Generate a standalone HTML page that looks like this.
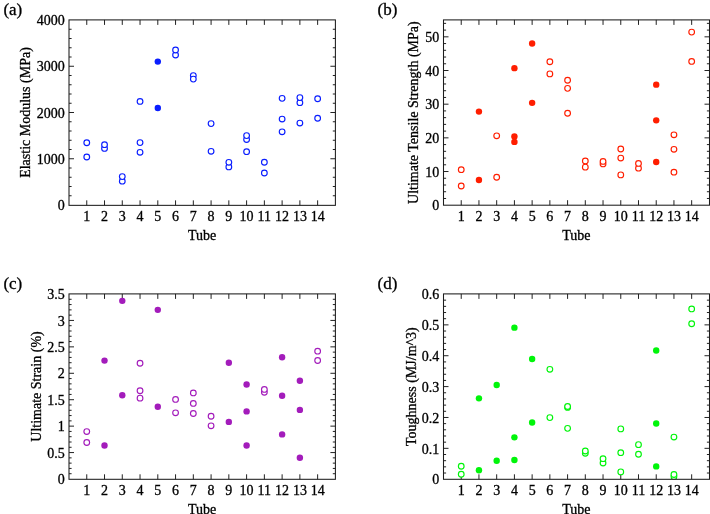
<!DOCTYPE html>
<html><head><meta charset="utf-8"><title>Tube mechanical properties</title>
<style>
html,body{margin:0;padding:0;background:#fff;}
body{width:710px;height:514px;overflow:hidden;}
svg{display:block;}
text{font-family:"Liberation Serif", serif;font-size:14px;fill:#000;stroke:#000;stroke-width:0.3px;}
svg{will-change:transform;}
</style></head><body>
<svg width="710" height="514" viewBox="0 0 710 514">
<rect width="710" height="514" fill="#fff"/>
<g>
<path d="M86.76 205.35V200.35M86.76 19.9V24.9M104.52 205.35V200.35M104.52 19.9V24.9M122.28 205.35V200.35M122.28 19.9V24.9M140.04 205.35V200.35M140.04 19.9V24.9M157.8 205.35V200.35M157.8 19.9V24.9M175.56 205.35V200.35M175.56 19.9V24.9M193.32 205.35V200.35M193.32 19.9V24.9M211.08 205.35V200.35M211.08 19.9V24.9M228.84 205.35V200.35M228.84 19.9V24.9M246.6 205.35V200.35M246.6 19.9V24.9M264.36 205.35V200.35M264.36 19.9V24.9M282.12 205.35V200.35M282.12 19.9V24.9M299.88 205.35V200.35M299.88 19.9V24.9M317.64 205.35V200.35M317.64 19.9V24.9M69 195.75H71.6M335.4 195.75H332.8M69 186.5H71.6M335.4 186.5H332.8M69 177.25H71.6M335.4 177.25H332.8M69 168H71.6M335.4 168H332.8M69 158.75H74M335.4 158.75H330.4M69 149.5H71.6M335.4 149.5H332.8M69 140.25H71.6M335.4 140.25H332.8M69 131H71.6M335.4 131H332.8M69 121.75H71.6M335.4 121.75H332.8M69 112.5H74M335.4 112.5H330.4M69 103.25H71.6M335.4 103.25H332.8M69 94H71.6M335.4 94H332.8M69 84.75H71.6M335.4 84.75H332.8M69 75.5H71.6M335.4 75.5H332.8M69 66.25H74M335.4 66.25H330.4M69 57H71.6M335.4 57H332.8M69 47.75H71.6M335.4 47.75H332.8M69 38.5H71.6M335.4 38.5H332.8M69 29.25H71.6M335.4 29.25H332.8" stroke="#222" stroke-width="1.0" fill="none"/>
<text x="64.7" y="210.2" text-anchor="end">0</text>
<text x="64.7" y="163.95" text-anchor="end">1000</text>
<text x="64.7" y="117.7" text-anchor="end">2000</text>
<text x="64.7" y="71.45" text-anchor="end">3000</text>
<text x="64.7" y="25.2" text-anchor="end">4000</text>
<text x="86.76" y="221" text-anchor="middle">1</text>
<text x="104.52" y="221" text-anchor="middle">2</text>
<text x="122.28" y="221" text-anchor="middle">3</text>
<text x="140.04" y="221" text-anchor="middle">4</text>
<text x="157.8" y="221" text-anchor="middle">5</text>
<text x="175.56" y="221" text-anchor="middle">6</text>
<text x="193.32" y="221" text-anchor="middle">7</text>
<text x="211.08" y="221" text-anchor="middle">8</text>
<text x="228.84" y="221" text-anchor="middle">9</text>
<text x="246.6" y="221" text-anchor="middle">10</text>
<text x="264.36" y="221" text-anchor="middle">11</text>
<text x="282.12" y="221" text-anchor="middle">12</text>
<text x="299.88" y="221" text-anchor="middle">13</text>
<text x="317.64" y="221" text-anchor="middle">14</text>
<text x="202.2" y="239.7" text-anchor="middle">Tube</text>
<text transform="translate(30 112.5) rotate(-90)" x="0" y="0" text-anchor="middle">Elastic Modulus (MPa)</text>
<text x="3.4" y="15" style="font-size:17px">(a)</text>
<clipPath id="ca"><rect x="69" y="19.9" width="266.4" height="185.45"/></clipPath>
<g clip-path="url(#ca)"><circle cx="86.76" cy="156.99" r="2.85" fill="#fff" stroke="#0a1eff" stroke-width="1.15"/><circle cx="86.76" cy="142.79" r="2.85" fill="#fff" stroke="#0a1eff" stroke-width="1.15"/><circle cx="104.52" cy="148.39" r="2.85" fill="#fff" stroke="#0a1eff" stroke-width="1.15"/><circle cx="104.52" cy="144.69" r="2.85" fill="#fff" stroke="#0a1eff" stroke-width="1.15"/><circle cx="122.28" cy="181.18" r="2.85" fill="#fff" stroke="#0a1eff" stroke-width="1.15"/><circle cx="122.28" cy="176.6" r="2.85" fill="#fff" stroke="#0a1eff" stroke-width="1.15"/><circle cx="140.04" cy="152.32" r="2.85" fill="#fff" stroke="#0a1eff" stroke-width="1.15"/><circle cx="140.04" cy="142.61" r="2.85" fill="#fff" stroke="#0a1eff" stroke-width="1.15"/><circle cx="140.04" cy="101.4" r="2.85" fill="#fff" stroke="#0a1eff" stroke-width="1.15"/><circle cx="157.8" cy="108.01" r="3.2" fill="#0a1eff"/><circle cx="157.8" cy="61.62" r="3.2" fill="#0a1eff"/><circle cx="175.56" cy="55.01" r="2.85" fill="#fff" stroke="#0a1eff" stroke-width="1.15"/><circle cx="175.56" cy="50.02" r="2.85" fill="#fff" stroke="#0a1eff" stroke-width="1.15"/><circle cx="193.32" cy="75.59" r="2.85" fill="#fff" stroke="#0a1eff" stroke-width="1.15"/><circle cx="193.32" cy="79.11" r="2.85" fill="#fff" stroke="#0a1eff" stroke-width="1.15"/><circle cx="211.08" cy="151.3" r="2.85" fill="#fff" stroke="#0a1eff" stroke-width="1.15"/><circle cx="211.08" cy="123.6" r="2.85" fill="#fff" stroke="#0a1eff" stroke-width="1.15"/><circle cx="228.84" cy="166.89" r="2.85" fill="#fff" stroke="#0a1eff" stroke-width="1.15"/><circle cx="228.84" cy="162.31" r="2.85" fill="#fff" stroke="#0a1eff" stroke-width="1.15"/><circle cx="246.6" cy="151.67" r="2.85" fill="#fff" stroke="#0a1eff" stroke-width="1.15"/><circle cx="246.6" cy="139.51" r="2.85" fill="#fff" stroke="#0a1eff" stroke-width="1.15"/><circle cx="246.6" cy="135.62" r="2.85" fill="#fff" stroke="#0a1eff" stroke-width="1.15"/><circle cx="264.36" cy="173.04" r="2.85" fill="#fff" stroke="#0a1eff" stroke-width="1.15"/><circle cx="264.36" cy="162.22" r="2.85" fill="#fff" stroke="#0a1eff" stroke-width="1.15"/><circle cx="282.12" cy="131.83" r="2.85" fill="#fff" stroke="#0a1eff" stroke-width="1.15"/><circle cx="282.12" cy="119.07" r="2.85" fill="#fff" stroke="#0a1eff" stroke-width="1.15"/><circle cx="282.12" cy="98.35" r="2.85" fill="#fff" stroke="#0a1eff" stroke-width="1.15"/><circle cx="299.88" cy="123.09" r="2.85" fill="#fff" stroke="#0a1eff" stroke-width="1.15"/><circle cx="299.88" cy="102.7" r="2.85" fill="#fff" stroke="#0a1eff" stroke-width="1.15"/><circle cx="299.88" cy="97.61" r="2.85" fill="#fff" stroke="#0a1eff" stroke-width="1.15"/><circle cx="317.64" cy="118.23" r="2.85" fill="#fff" stroke="#0a1eff" stroke-width="1.15"/><circle cx="317.64" cy="98.76" r="2.85" fill="#fff" stroke="#0a1eff" stroke-width="1.15"/></g>
<rect x="69" y="19.9" width="266.4" height="185.45" fill="none" stroke="#1c1c1c" stroke-width="1.05"/>
</g>
<g>
<path d="M461.23 205.2V200.2M461.23 19.9V24.9M478.95 205.2V200.2M478.95 19.9V24.9M496.68 205.2V200.2M496.68 19.9V24.9M514.41 205.2V200.2M514.41 19.9V24.9M532.13 205.2V200.2M532.13 19.9V24.9M549.86 205.2V200.2M549.86 19.9V24.9M567.59 205.2V200.2M567.59 19.9V24.9M585.31 205.2V200.2M585.31 19.9V24.9M603.04 205.2V200.2M603.04 19.9V24.9M620.77 205.2V200.2M620.77 19.9V24.9M638.49 205.2V200.2M638.49 19.9V24.9M656.22 205.2V200.2M656.22 19.9V24.9M673.95 205.2V200.2M673.95 19.9V24.9M691.67 205.2V200.2M691.67 19.9V24.9M443.5 198.47H446.1M709.5 198.47H706.9M443.5 191.73H446.1M709.5 191.73H706.9M443.5 185H446.1M709.5 185H706.9M443.5 178.26H446.1M709.5 178.26H706.9M443.5 171.53H448.5M709.5 171.53H704.5M443.5 164.79H446.1M709.5 164.79H706.9M443.5 158.06H446.1M709.5 158.06H706.9M443.5 151.32H446.1M709.5 151.32H706.9M443.5 144.59H446.1M709.5 144.59H706.9M443.5 137.85H448.5M709.5 137.85H704.5M443.5 131.12H446.1M709.5 131.12H706.9M443.5 124.39H446.1M709.5 124.39H706.9M443.5 117.65H446.1M709.5 117.65H706.9M443.5 110.92H446.1M709.5 110.92H706.9M443.5 104.18H448.5M709.5 104.18H704.5M443.5 97.45H446.1M709.5 97.45H706.9M443.5 90.71H446.1M709.5 90.71H706.9M443.5 83.98H446.1M709.5 83.98H706.9M443.5 77.24H446.1M709.5 77.24H706.9M443.5 70.51H448.5M709.5 70.51H704.5M443.5 63.77H446.1M709.5 63.77H706.9M443.5 57.04H446.1M709.5 57.04H706.9M443.5 50.31H446.1M709.5 50.31H706.9M443.5 43.57H446.1M709.5 43.57H706.9M443.5 36.84H448.5M709.5 36.84H704.5M443.5 30.1H446.1M709.5 30.1H706.9M443.5 23.37H446.1M709.5 23.37H706.9" stroke="#222" stroke-width="1.0" fill="none"/>
<text x="439.2" y="210.4" text-anchor="end">0</text>
<text x="439.2" y="176.73" text-anchor="end">10</text>
<text x="439.2" y="143.05" text-anchor="end">20</text>
<text x="439.2" y="109.38" text-anchor="end">30</text>
<text x="439.2" y="75.71" text-anchor="end">40</text>
<text x="439.2" y="42.04" text-anchor="end">50</text>
<text x="461.23" y="221.2" text-anchor="middle">1</text>
<text x="478.95" y="221.2" text-anchor="middle">2</text>
<text x="496.68" y="221.2" text-anchor="middle">3</text>
<text x="514.41" y="221.2" text-anchor="middle">4</text>
<text x="532.13" y="221.2" text-anchor="middle">5</text>
<text x="549.86" y="221.2" text-anchor="middle">6</text>
<text x="567.59" y="221.2" text-anchor="middle">7</text>
<text x="585.31" y="221.2" text-anchor="middle">8</text>
<text x="603.04" y="221.2" text-anchor="middle">9</text>
<text x="620.77" y="221.2" text-anchor="middle">10</text>
<text x="638.49" y="221.2" text-anchor="middle">11</text>
<text x="656.22" y="221.2" text-anchor="middle">12</text>
<text x="673.95" y="221.2" text-anchor="middle">13</text>
<text x="691.67" y="221.2" text-anchor="middle">14</text>
<text x="576.45" y="239.9" text-anchor="middle">Tube</text>
<text transform="translate(418.4 112.6) rotate(-90)" x="0" y="0" text-anchor="middle">Ultimate Tensile Strength (MPa)</text>
<text x="377.5" y="15" style="font-size:17px">(b)</text>
<clipPath id="cb"><rect x="443.5" y="19.9" width="266" height="185.3"/></clipPath>
<g clip-path="url(#cb)"><circle cx="461.23" cy="186.01" r="2.85" fill="#fff" stroke="#ff1e00" stroke-width="1.15"/><circle cx="461.23" cy="169.68" r="2.85" fill="#fff" stroke="#ff1e00" stroke-width="1.15"/><circle cx="478.95" cy="179.95" r="3.2" fill="#ff1e00"/><circle cx="478.95" cy="111.59" r="3.2" fill="#ff1e00"/><circle cx="496.68" cy="177.25" r="2.85" fill="#fff" stroke="#ff1e00" stroke-width="1.15"/><circle cx="496.68" cy="135.83" r="2.85" fill="#fff" stroke="#ff1e00" stroke-width="1.15"/><circle cx="514.41" cy="141.9" r="3.2" fill="#ff1e00"/><circle cx="514.41" cy="136.51" r="3.2" fill="#ff1e00"/><circle cx="514.41" cy="68.15" r="3.2" fill="#ff1e00"/><circle cx="532.13" cy="102.83" r="3.2" fill="#ff1e00"/><circle cx="532.13" cy="43.57" r="3.2" fill="#ff1e00"/><circle cx="549.86" cy="73.88" r="2.85" fill="#fff" stroke="#ff1e00" stroke-width="1.15"/><circle cx="549.86" cy="61.75" r="2.85" fill="#fff" stroke="#ff1e00" stroke-width="1.15"/><circle cx="567.59" cy="113.27" r="2.85" fill="#fff" stroke="#ff1e00" stroke-width="1.15"/><circle cx="567.59" cy="88.36" r="2.85" fill="#fff" stroke="#ff1e00" stroke-width="1.15"/><circle cx="567.59" cy="80.27" r="2.85" fill="#fff" stroke="#ff1e00" stroke-width="1.15"/><circle cx="585.31" cy="167.15" r="2.85" fill="#fff" stroke="#ff1e00" stroke-width="1.15"/><circle cx="585.31" cy="160.92" r="2.85" fill="#fff" stroke="#ff1e00" stroke-width="1.15"/><circle cx="603.04" cy="163.95" r="2.85" fill="#fff" stroke="#ff1e00" stroke-width="1.15"/><circle cx="603.04" cy="161.43" r="2.85" fill="#fff" stroke="#ff1e00" stroke-width="1.15"/><circle cx="620.77" cy="174.89" r="2.85" fill="#fff" stroke="#ff1e00" stroke-width="1.15"/><circle cx="620.77" cy="158.06" r="2.85" fill="#fff" stroke="#ff1e00" stroke-width="1.15"/><circle cx="620.77" cy="148.97" r="2.85" fill="#fff" stroke="#ff1e00" stroke-width="1.15"/><circle cx="638.49" cy="168.16" r="2.85" fill="#fff" stroke="#ff1e00" stroke-width="1.15"/><circle cx="638.49" cy="163.45" r="2.85" fill="#fff" stroke="#ff1e00" stroke-width="1.15"/><circle cx="656.22" cy="161.93" r="3.2" fill="#ff1e00"/><circle cx="656.22" cy="120.34" r="3.2" fill="#ff1e00"/><circle cx="656.22" cy="84.65" r="3.2" fill="#ff1e00"/><circle cx="673.95" cy="172.2" r="2.85" fill="#fff" stroke="#ff1e00" stroke-width="1.15"/><circle cx="673.95" cy="149.3" r="2.85" fill="#fff" stroke="#ff1e00" stroke-width="1.15"/><circle cx="673.95" cy="134.82" r="2.85" fill="#fff" stroke="#ff1e00" stroke-width="1.15"/><circle cx="691.67" cy="61.42" r="2.85" fill="#fff" stroke="#ff1e00" stroke-width="1.15"/><circle cx="691.67" cy="32.12" r="2.85" fill="#fff" stroke="#ff1e00" stroke-width="1.15"/></g>
<rect x="443.5" y="19.9" width="266" height="185.3" fill="none" stroke="#1c1c1c" stroke-width="1.05"/>
</g>
<g>
<path d="M86.76 479.3V474.3M86.76 293.9V298.9M104.52 479.3V474.3M104.52 293.9V298.9M122.28 479.3V474.3M122.28 293.9V298.9M140.04 479.3V474.3M140.04 293.9V298.9M157.8 479.3V474.3M157.8 293.9V298.9M175.56 479.3V474.3M175.56 293.9V298.9M193.32 479.3V474.3M193.32 293.9V298.9M211.08 479.3V474.3M211.08 293.9V298.9M228.84 479.3V474.3M228.84 293.9V298.9M246.6 479.3V474.3M246.6 293.9V298.9M264.36 479.3V474.3M264.36 293.9V298.9M282.12 479.3V474.3M282.12 293.9V298.9M299.88 479.3V474.3M299.88 293.9V298.9M317.64 479.3V474.3M317.64 293.9V298.9M69 473.71H71.6M335.4 473.71H332.8M69 468.43H71.6M335.4 468.43H332.8M69 463.14H71.6M335.4 463.14H332.8M69 457.86H71.6M335.4 457.86H332.8M69 452.57H74M335.4 452.57H330.4M69 447.29H71.6M335.4 447.29H332.8M69 442H71.6M335.4 442H332.8M69 436.71H71.6M335.4 436.71H332.8M69 431.43H71.6M335.4 431.43H332.8M69 426.14H74M335.4 426.14H330.4M69 420.86H71.6M335.4 420.86H332.8M69 415.57H71.6M335.4 415.57H332.8M69 410.29H71.6M335.4 410.29H332.8M69 405H71.6M335.4 405H332.8M69 399.71H74M335.4 399.71H330.4M69 394.43H71.6M335.4 394.43H332.8M69 389.14H71.6M335.4 389.14H332.8M69 383.86H71.6M335.4 383.86H332.8M69 378.57H71.6M335.4 378.57H332.8M69 373.29H74M335.4 373.29H330.4M69 368H71.6M335.4 368H332.8M69 362.71H71.6M335.4 362.71H332.8M69 357.43H71.6M335.4 357.43H332.8M69 352.14H71.6M335.4 352.14H332.8M69 346.86H74M335.4 346.86H330.4M69 341.57H71.6M335.4 341.57H332.8M69 336.29H71.6M335.4 336.29H332.8M69 331H71.6M335.4 331H332.8M69 325.71H71.6M335.4 325.71H332.8M69 320.43H74M335.4 320.43H330.4M69 315.14H71.6M335.4 315.14H332.8M69 309.86H71.6M335.4 309.86H332.8M69 304.57H71.6M335.4 304.57H332.8M69 299.29H71.6M335.4 299.29H332.8" stroke="#222" stroke-width="1.0" fill="none"/>
<text x="64.7" y="484.2" text-anchor="end">0</text>
<text x="64.7" y="457.77" text-anchor="end">0.5</text>
<text x="64.7" y="431.34" text-anchor="end">1</text>
<text x="64.7" y="404.91" text-anchor="end">1.5</text>
<text x="64.7" y="378.49" text-anchor="end">2</text>
<text x="64.7" y="352.06" text-anchor="end">2.5</text>
<text x="64.7" y="325.63" text-anchor="end">3</text>
<text x="64.7" y="299.2" text-anchor="end">3.5</text>
<text x="86.76" y="495" text-anchor="middle">1</text>
<text x="104.52" y="495" text-anchor="middle">2</text>
<text x="122.28" y="495" text-anchor="middle">3</text>
<text x="140.04" y="495" text-anchor="middle">4</text>
<text x="157.8" y="495" text-anchor="middle">5</text>
<text x="175.56" y="495" text-anchor="middle">6</text>
<text x="193.32" y="495" text-anchor="middle">7</text>
<text x="211.08" y="495" text-anchor="middle">8</text>
<text x="228.84" y="495" text-anchor="middle">9</text>
<text x="246.6" y="495" text-anchor="middle">10</text>
<text x="264.36" y="495" text-anchor="middle">11</text>
<text x="282.12" y="495" text-anchor="middle">12</text>
<text x="299.88" y="495" text-anchor="middle">13</text>
<text x="317.64" y="495" text-anchor="middle">14</text>
<text x="202.2" y="513.7" text-anchor="middle">Tube</text>
<text transform="translate(40.8 386.5) rotate(-90)" x="0" y="0" text-anchor="middle">Ultimate Strain (%)</text>
<text x="3.4" y="289" style="font-size:17px">(c)</text>
<clipPath id="cc"><rect x="69" y="293.9" width="266.4" height="185.4"/></clipPath>
<g clip-path="url(#cc)"><circle cx="86.76" cy="442.53" r="2.85" fill="#fff" stroke="#a31cbb" stroke-width="1.15"/><circle cx="86.76" cy="431.59" r="2.85" fill="#fff" stroke="#a31cbb" stroke-width="1.15"/><circle cx="104.52" cy="445.49" r="3.2" fill="#a31cbb"/><circle cx="104.52" cy="360.6" r="3.2" fill="#a31cbb"/><circle cx="122.28" cy="395.22" r="3.2" fill="#a31cbb"/><circle cx="122.28" cy="300.87" r="3.2" fill="#a31cbb"/><circle cx="140.04" cy="398.13" r="2.85" fill="#fff" stroke="#a31cbb" stroke-width="1.15"/><circle cx="140.04" cy="390.73" r="2.85" fill="#fff" stroke="#a31cbb" stroke-width="1.15"/><circle cx="140.04" cy="363.24" r="2.85" fill="#fff" stroke="#a31cbb" stroke-width="1.15"/><circle cx="157.8" cy="406.8" r="3.2" fill="#a31cbb"/><circle cx="157.8" cy="309.86" r="3.2" fill="#a31cbb"/><circle cx="175.56" cy="412.82" r="2.85" fill="#fff" stroke="#a31cbb" stroke-width="1.15"/><circle cx="175.56" cy="399.4" r="2.85" fill="#fff" stroke="#a31cbb" stroke-width="1.15"/><circle cx="193.32" cy="413.51" r="2.85" fill="#fff" stroke="#a31cbb" stroke-width="1.15"/><circle cx="193.32" cy="403.41" r="2.85" fill="#fff" stroke="#a31cbb" stroke-width="1.15"/><circle cx="193.32" cy="392.9" r="2.85" fill="#fff" stroke="#a31cbb" stroke-width="1.15"/><circle cx="211.08" cy="425.83" r="2.85" fill="#fff" stroke="#a31cbb" stroke-width="1.15"/><circle cx="211.08" cy="416.21" r="2.85" fill="#fff" stroke="#a31cbb" stroke-width="1.15"/><circle cx="228.84" cy="421.91" r="3.2" fill="#a31cbb"/><circle cx="228.84" cy="362.82" r="3.2" fill="#a31cbb"/><circle cx="246.6" cy="445.49" r="3.2" fill="#a31cbb"/><circle cx="246.6" cy="411.4" r="3.2" fill="#a31cbb"/><circle cx="246.6" cy="384.49" r="3.2" fill="#a31cbb"/><circle cx="264.36" cy="392.21" r="2.85" fill="#fff" stroke="#a31cbb" stroke-width="1.15"/><circle cx="264.36" cy="389.41" r="2.85" fill="#fff" stroke="#a31cbb" stroke-width="1.15"/><circle cx="282.12" cy="434.39" r="3.2" fill="#a31cbb"/><circle cx="282.12" cy="395.7" r="3.2" fill="#a31cbb"/><circle cx="282.12" cy="357.32" r="3.2" fill="#a31cbb"/><circle cx="299.88" cy="457.7" r="3.2" fill="#a31cbb"/><circle cx="299.88" cy="409.92" r="3.2" fill="#a31cbb"/><circle cx="299.88" cy="380.79" r="3.2" fill="#a31cbb"/><circle cx="317.64" cy="360.49" r="2.85" fill="#fff" stroke="#a31cbb" stroke-width="1.15"/><circle cx="317.64" cy="351.19" r="2.85" fill="#fff" stroke="#a31cbb" stroke-width="1.15"/></g>
<rect x="69" y="293.9" width="266.4" height="185.4" fill="none" stroke="#1c1c1c" stroke-width="1.05"/>
</g>
<g>
<path d="M461.23 479.3V474.3M461.23 293.9V298.9M478.95 479.3V474.3M478.95 293.9V298.9M496.68 479.3V474.3M496.68 293.9V298.9M514.41 479.3V474.3M514.41 293.9V298.9M532.13 479.3V474.3M532.13 293.9V298.9M549.86 479.3V474.3M549.86 293.9V298.9M567.59 479.3V474.3M567.59 293.9V298.9M585.31 479.3V474.3M585.31 293.9V298.9M603.04 479.3V474.3M603.04 293.9V298.9M620.77 479.3V474.3M620.77 293.9V298.9M638.49 479.3V474.3M638.49 293.9V298.9M656.22 479.3V474.3M656.22 293.9V298.9M673.95 479.3V474.3M673.95 293.9V298.9M691.67 479.3V474.3M691.67 293.9V298.9M443.5 473.03H446.1M709.5 473.03H706.9M443.5 466.85H446.1M709.5 466.85H706.9M443.5 460.68H446.1M709.5 460.68H706.9M443.5 454.51H446.1M709.5 454.51H706.9M443.5 448.33H448.5M709.5 448.33H704.5M443.5 442.16H446.1M709.5 442.16H706.9M443.5 435.99H446.1M709.5 435.99H706.9M443.5 429.81H446.1M709.5 429.81H706.9M443.5 423.64H446.1M709.5 423.64H706.9M443.5 417.47H448.5M709.5 417.47H704.5M443.5 411.29H446.1M709.5 411.29H706.9M443.5 405.12H446.1M709.5 405.12H706.9M443.5 398.95H446.1M709.5 398.95H706.9M443.5 392.77H446.1M709.5 392.77H706.9M443.5 386.6H448.5M709.5 386.6H704.5M443.5 380.43H446.1M709.5 380.43H706.9M443.5 374.25H446.1M709.5 374.25H706.9M443.5 368.08H446.1M709.5 368.08H706.9M443.5 361.91H446.1M709.5 361.91H706.9M443.5 355.73H448.5M709.5 355.73H704.5M443.5 349.56H446.1M709.5 349.56H706.9M443.5 343.39H446.1M709.5 343.39H706.9M443.5 337.21H446.1M709.5 337.21H706.9M443.5 331.04H446.1M709.5 331.04H706.9M443.5 324.87H448.5M709.5 324.87H704.5M443.5 318.69H446.1M709.5 318.69H706.9M443.5 312.52H446.1M709.5 312.52H706.9M443.5 306.35H446.1M709.5 306.35H706.9M443.5 300.17H446.1M709.5 300.17H706.9" stroke="#222" stroke-width="1.0" fill="none"/>
<text x="439.2" y="484.4" text-anchor="end">0</text>
<text x="439.2" y="453.53" text-anchor="end">0.1</text>
<text x="439.2" y="422.67" text-anchor="end">0.2</text>
<text x="439.2" y="391.8" text-anchor="end">0.3</text>
<text x="439.2" y="360.93" text-anchor="end">0.4</text>
<text x="439.2" y="330.07" text-anchor="end">0.5</text>
<text x="439.2" y="299.2" text-anchor="end">0.6</text>
<text x="461.23" y="495.2" text-anchor="middle">1</text>
<text x="478.95" y="495.2" text-anchor="middle">2</text>
<text x="496.68" y="495.2" text-anchor="middle">3</text>
<text x="514.41" y="495.2" text-anchor="middle">4</text>
<text x="532.13" y="495.2" text-anchor="middle">5</text>
<text x="549.86" y="495.2" text-anchor="middle">6</text>
<text x="567.59" y="495.2" text-anchor="middle">7</text>
<text x="585.31" y="495.2" text-anchor="middle">8</text>
<text x="603.04" y="495.2" text-anchor="middle">9</text>
<text x="620.77" y="495.2" text-anchor="middle">10</text>
<text x="638.49" y="495.2" text-anchor="middle">11</text>
<text x="656.22" y="495.2" text-anchor="middle">12</text>
<text x="673.95" y="495.2" text-anchor="middle">13</text>
<text x="691.67" y="495.2" text-anchor="middle">14</text>
<text x="576.45" y="513.9" text-anchor="middle">Tube</text>
<text transform="translate(415.5 386.6) rotate(-90)" x="0" y="0" text-anchor="middle">Toughness (MJ/m^3)</text>
<text x="377.5" y="289" style="font-size:17px">(d)</text>
<clipPath id="cd"><rect x="443.5" y="293.9" width="266" height="185.4"/></clipPath>
<g clip-path="url(#cd)"><circle cx="461.23" cy="474.26" r="2.85" fill="#fff" stroke="#00f50a" stroke-width="1.15"/><circle cx="461.23" cy="466.24" r="2.85" fill="#fff" stroke="#00f50a" stroke-width="1.15"/><circle cx="478.95" cy="470.25" r="3.2" fill="#00f50a"/><circle cx="478.95" cy="398.33" r="3.2" fill="#00f50a"/><circle cx="496.68" cy="460.68" r="3.2" fill="#00f50a"/><circle cx="496.68" cy="385.06" r="3.2" fill="#00f50a"/><circle cx="514.41" cy="460.06" r="3.2" fill="#00f50a"/><circle cx="514.41" cy="437.34" r="3.2" fill="#00f50a"/><circle cx="514.41" cy="327.64" r="3.2" fill="#00f50a"/><circle cx="532.13" cy="422.53" r="3.2" fill="#00f50a"/><circle cx="532.13" cy="358.97" r="3.2" fill="#00f50a"/><circle cx="549.86" cy="417.62" r="2.85" fill="#fff" stroke="#00f50a" stroke-width="1.15"/><circle cx="549.86" cy="369.31" r="2.85" fill="#fff" stroke="#00f50a" stroke-width="1.15"/><circle cx="567.59" cy="428.36" r="2.85" fill="#fff" stroke="#00f50a" stroke-width="1.15"/><circle cx="567.59" cy="407.4" r="2.85" fill="#fff" stroke="#00f50a" stroke-width="1.15"/><circle cx="567.59" cy="406.51" r="2.85" fill="#fff" stroke="#00f50a" stroke-width="1.15"/><circle cx="585.31" cy="453.27" r="2.85" fill="#fff" stroke="#00f50a" stroke-width="1.15"/><circle cx="585.31" cy="450.96" r="2.85" fill="#fff" stroke="#00f50a" stroke-width="1.15"/><circle cx="603.04" cy="463" r="2.85" fill="#fff" stroke="#00f50a" stroke-width="1.15"/><circle cx="603.04" cy="458.67" r="2.85" fill="#fff" stroke="#00f50a" stroke-width="1.15"/><circle cx="620.77" cy="471.88" r="2.85" fill="#fff" stroke="#00f50a" stroke-width="1.15"/><circle cx="620.77" cy="452.65" r="2.85" fill="#fff" stroke="#00f50a" stroke-width="1.15"/><circle cx="620.77" cy="428.89" r="2.85" fill="#fff" stroke="#00f50a" stroke-width="1.15"/><circle cx="638.49" cy="454.2" r="2.85" fill="#fff" stroke="#00f50a" stroke-width="1.15"/><circle cx="638.49" cy="444.63" r="2.85" fill="#fff" stroke="#00f50a" stroke-width="1.15"/><circle cx="656.22" cy="466.39" r="3.2" fill="#00f50a"/><circle cx="656.22" cy="423.45" r="3.2" fill="#00f50a"/><circle cx="656.22" cy="350.49" r="3.2" fill="#00f50a"/><circle cx="673.95" cy="476.79" r="2.85" fill="#fff" stroke="#00f50a" stroke-width="1.15"/><circle cx="673.95" cy="474.51" r="2.85" fill="#fff" stroke="#00f50a" stroke-width="1.15"/><circle cx="673.95" cy="437.07" r="2.85" fill="#fff" stroke="#00f50a" stroke-width="1.15"/><circle cx="691.67" cy="323.72" r="2.85" fill="#fff" stroke="#00f50a" stroke-width="1.15"/><circle cx="691.67" cy="308.91" r="2.85" fill="#fff" stroke="#00f50a" stroke-width="1.15"/></g>
<rect x="443.5" y="293.9" width="266" height="185.4" fill="none" stroke="#1c1c1c" stroke-width="1.05"/>
</g>
</svg>
</body></html>
